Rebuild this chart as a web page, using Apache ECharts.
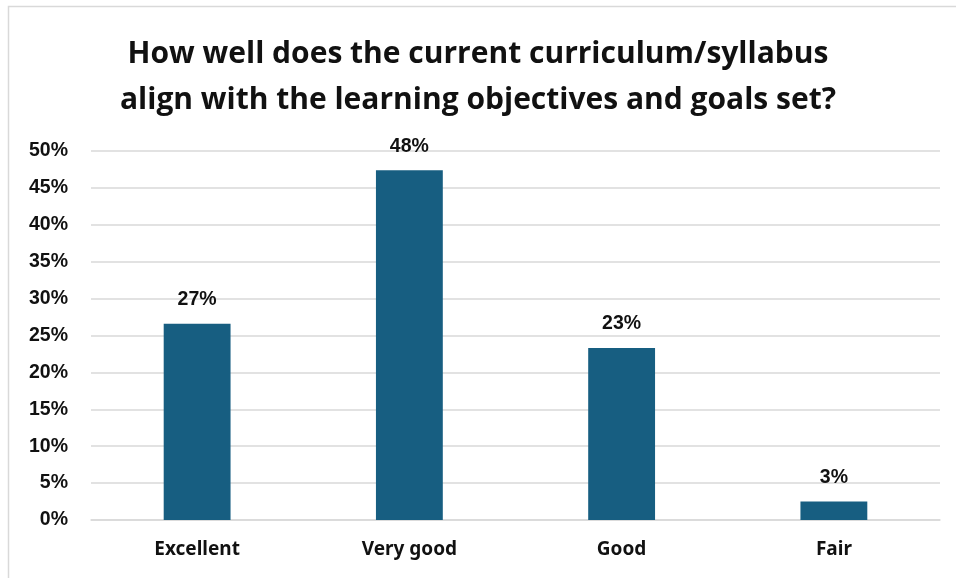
<!DOCTYPE html>
<html>
<head>
<meta charset="utf-8">
<script src="https://cdn.jsdelivr.net/npm/echarts@6/dist/echarts.min.js"></script>
<style>
  html, body { margin: 0; padding: 0; background: #fff; }
  #chart { width: 956px; height: 578px; }
</style>
</head>
<body>
<div id="chart"></div>
<script>
// survey answers, share of respondents (%)
const categories = ['Excellent', 'Very good', 'Good', 'Fair'];
const shares = [26.6, 47.4, 23.3, 2.5];
const shareLabels = ['27%', '48%', '23%', '3%'];
const titleLines = [
    'How well does the current curriculum/syllabus',
    'align with the learning objectives and goals set?'
];

const BAR = '#175e81';
const chart = echarts.init(document.getElementById('chart'));

chart.setOption({
    backgroundColor: '#fff',
    animation: false,
    graphic: [{
        type: 'rect', silent: true,
        shape: { x: 8.5, y: 6.5, width: 1000, height: 1000 },
        style: { fill: 'none', stroke: '#d9d9d9', lineWidth: 1.5 }
    }],
    title: {
        text: titleLines.join('\n'),
        left: 'center', top: 26,
        textStyle: { fontFamily: '"Open Sans", "Noto Sans", sans-serif', fontWeight: 'bold', fontSize: 30, lineHeight: 46, color: '#111' }
    },
    grid: { left: 91, right: 16, top: 151, bottom: 58 },
    xAxis: {
        type: 'category', data: categories,
        axisLine: { show: true, lineStyle: { color: '#d9d9d9', width: 1.5 } },
        axisTick: { show: false },
        axisLabel: { color: '#111', fontFamily: '"Noto Sans", sans-serif', fontWeight: 'bold', fontSize: 19, margin: 20 }
    },
    yAxis: {
        type: 'value', min: 0, max: 50, interval: 5,
        axisLine: { show: false }, axisTick: { show: false },
        splitLine: { lineStyle: { color: '#d9d9d9', width: 1.5 } },
        axisLabel: { color: '#111', fontFamily: '"Liberation Sans", Arial, sans-serif', fontWeight: 'bold', fontSize: 19.5, margin: 23, formatter: '{value}%' }
    },
    series: [{
        type: 'bar', data: shares, barWidth: '31.5%',
        itemStyle: { color: BAR },
        label: {
            show: true, position: 'top', distance: 14,
            color: '#111', fontFamily: '"Liberation Sans", Arial, sans-serif', fontWeight: 'bold', fontSize: 19.5,
            formatter: p => shareLabels[p.dataIndex]
        }
    }]
});
</script>
</body>
</html>
